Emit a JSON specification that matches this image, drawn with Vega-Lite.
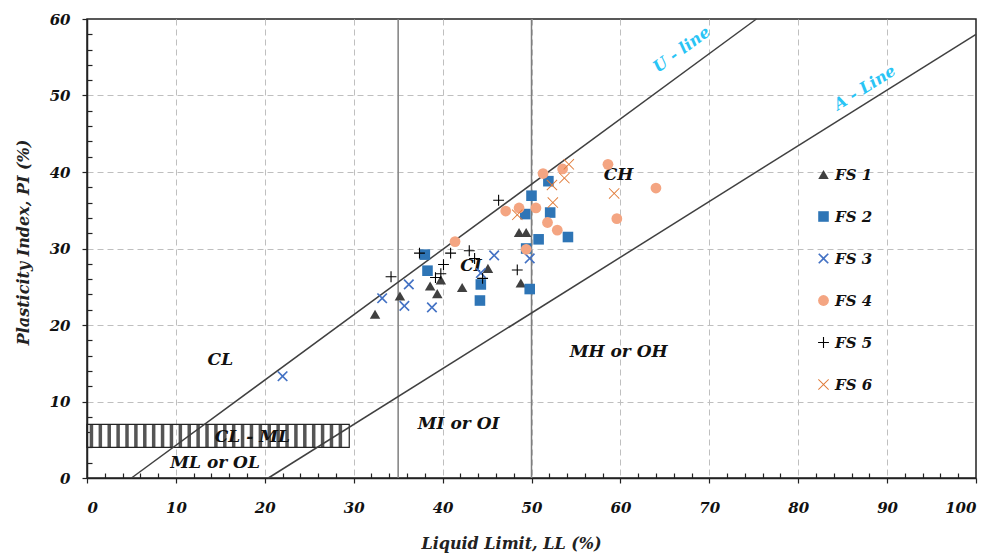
{
  "$schema": "https://vega.github.io/schema/vega-lite/v6.json",
  "width": 889,
  "height": 459,
  "autosize": {"type": "none"},
  "padding": {"left": 87, "top": 19, "right": 19, "bottom": 78},
  "background": "white",
  "datasets": {
    "pts": [
      {"series": "FS 1", "LL": 32.4, "PI": 21.4},
      {"series": "FS 1", "LL": 35.2, "PI": 23.8},
      {"series": "FS 1", "LL": 38.6, "PI": 25.1},
      {"series": "FS 1", "LL": 39.4, "PI": 24.1},
      {"series": "FS 1", "LL": 39.8, "PI": 25.9},
      {"series": "FS 1", "LL": 42.2, "PI": 24.9},
      {"series": "FS 1", "LL": 45.1, "PI": 27.4},
      {"series": "FS 1", "LL": 48.6, "PI": 32.1},
      {"series": "FS 1", "LL": 49.4, "PI": 32.1},
      {"series": "FS 1", "LL": 48.8, "PI": 25.5},
      {"series": "FS 2", "LL": 38.0, "PI": 29.2},
      {"series": "FS 2", "LL": 38.3, "PI": 27.1},
      {"series": "FS 2", "LL": 44.3, "PI": 25.3},
      {"series": "FS 2", "LL": 44.2, "PI": 23.2},
      {"series": "FS 2", "LL": 50.0, "PI": 36.9},
      {"series": "FS 2", "LL": 49.3, "PI": 34.5},
      {"series": "FS 2", "LL": 52.1, "PI": 34.7},
      {"series": "FS 2", "LL": 50.8, "PI": 31.2},
      {"series": "FS 2", "LL": 54.1, "PI": 31.5},
      {"series": "FS 2", "LL": 49.4, "PI": 30.0},
      {"series": "FS 2", "LL": 49.8, "PI": 24.7},
      {"series": "FS 2", "LL": 51.9, "PI": 38.8},
      {"series": "FS 3", "LL": 22.0, "PI": 13.3},
      {"series": "FS 3", "LL": 33.2, "PI": 23.5},
      {"series": "FS 3", "LL": 35.7, "PI": 22.5},
      {"series": "FS 3", "LL": 36.2, "PI": 25.3},
      {"series": "FS 3", "LL": 38.8, "PI": 22.3},
      {"series": "FS 3", "LL": 44.3, "PI": 26.8},
      {"series": "FS 3", "LL": 45.8, "PI": 29.1},
      {"series": "FS 3", "LL": 49.8, "PI": 28.7},
      {"series": "FS 4", "LL": 41.4, "PI": 30.9},
      {"series": "FS 4", "LL": 47.1, "PI": 34.9},
      {"series": "FS 4", "LL": 48.6, "PI": 35.3},
      {"series": "FS 4", "LL": 50.5, "PI": 35.3},
      {"series": "FS 4", "LL": 51.8, "PI": 33.4},
      {"series": "FS 4", "LL": 52.9, "PI": 32.4},
      {"series": "FS 4", "LL": 49.4, "PI": 29.9},
      {"series": "FS 4", "LL": 51.3, "PI": 39.8},
      {"series": "FS 4", "LL": 53.5, "PI": 40.4},
      {"series": "FS 4", "LL": 58.6, "PI": 41.0},
      {"series": "FS 4", "LL": 64.0, "PI": 37.9},
      {"series": "FS 4", "LL": 59.6, "PI": 33.9},
      {"series": "FS 5", "LL": 34.2, "PI": 26.3},
      {"series": "FS 5", "LL": 37.4, "PI": 29.4},
      {"series": "FS 5", "LL": 39.2, "PI": 26.2},
      {"series": "FS 5", "LL": 39.8, "PI": 26.7},
      {"series": "FS 5", "LL": 40.1, "PI": 27.9},
      {"series": "FS 5", "LL": 40.9, "PI": 29.4},
      {"series": "FS 5", "LL": 43.0, "PI": 29.7},
      {"series": "FS 5", "LL": 43.6, "PI": 28.7},
      {"series": "FS 5", "LL": 44.5, "PI": 26.1},
      {"series": "FS 5", "LL": 46.3, "PI": 36.3},
      {"series": "FS 5", "LL": 48.4, "PI": 27.2},
      {"series": "FS 6", "LL": 48.4, "PI": 34.4},
      {"series": "FS 6", "LL": 52.3, "PI": 38.3},
      {"series": "FS 6", "LL": 52.4, "PI": 36.0},
      {"series": "FS 6", "LL": 54.2, "PI": 41.0},
      {"series": "FS 6", "LL": 53.7, "PI": 39.2},
      {"series": "FS 6", "LL": 59.3, "PI": 37.2}
    ],
    "lines": [
      {"line": "U", "LL": 5.0, "PI": 0},
      {"line": "U", "LL": 75.3, "PI": 60},
      {"line": "A", "LL": 20.4, "PI": 0},
      {"line": "A", "LL": 100, "PI": 58.0}
    ],
    "vlines": [
      {"LL": 35, "PI": 0, "PI2": 60},
      {"LL": 50, "PI": 0, "PI2": 60}
    ],
    "hatchbox": [
      {"LL": 0, "LL2": 29.5, "PI": 4, "PI2": 7}
    ],
    "stripes": [
      {"LL": 0.5, "PI": 4, "PI2": 7}, {"LL": 1.5, "PI": 4, "PI2": 7}, {"LL": 2.5, "PI": 4, "PI2": 7},
      {"LL": 3.5, "PI": 4, "PI2": 7}, {"LL": 4.5, "PI": 4, "PI2": 7}, {"LL": 5.5, "PI": 4, "PI2": 7},
      {"LL": 6.5, "PI": 4, "PI2": 7}, {"LL": 7.5, "PI": 4, "PI2": 7}, {"LL": 8.5, "PI": 4, "PI2": 7},
      {"LL": 9.5, "PI": 4, "PI2": 7}, {"LL": 10.5, "PI": 4, "PI2": 7}, {"LL": 11.5, "PI": 4, "PI2": 7},
      {"LL": 12.5, "PI": 4, "PI2": 7}, {"LL": 13.5, "PI": 4, "PI2": 7}, {"LL": 14.5, "PI": 4, "PI2": 7},
      {"LL": 15.5, "PI": 4, "PI2": 7}, {"LL": 16.5, "PI": 4, "PI2": 7}, {"LL": 17.5, "PI": 4, "PI2": 7},
      {"LL": 18.5, "PI": 4, "PI2": 7}, {"LL": 19.5, "PI": 4, "PI2": 7}, {"LL": 20.5, "PI": 4, "PI2": 7},
      {"LL": 21.5, "PI": 4, "PI2": 7}, {"LL": 22.5, "PI": 4, "PI2": 7}, {"LL": 23.5, "PI": 4, "PI2": 7},
      {"LL": 24.5, "PI": 4, "PI2": 7}, {"LL": 25.5, "PI": 4, "PI2": 7}, {"LL": 26.5, "PI": 4, "PI2": 7},
      {"LL": 27.5, "PI": 4, "PI2": 7}, {"LL": 28.5, "PI": 4, "PI2": 7}
    ],
    "labels": [
      {"text": "CL", "LL": 15.0, "PI": 15.4},
      {"text": "CL - ML", "LL": 18.6, "PI": 5.4},
      {"text": "ML or OL", "LL": 14.4, "PI": 1.9},
      {"text": "MI or OI", "LL": 41.8, "PI": 7.1},
      {"text": "CI", "LL": 43.2, "PI": 27.7},
      {"text": "CH", "LL": 59.8, "PI": 39.6},
      {"text": "MH or OH", "LL": 59.8, "PI": 16.5}
    ],
    "linelabels": [
      {"text": "U - line", "LL": 66.9, "PI": 56.0, "angle": -36},
      {"text": "A - Line", "LL": 87.5, "PI": 51.0, "angle": -32}
    ]
  },
  "encoding": {
    "x": {
      "field": "LL", "type": "quantitative",
      "scale": {"domain": [0, 100], "nice": false, "zero": false},
      "axis": {
        "title": "Liquid Limit, LL (%)",
        "titleX": 424,
        "titleFontSize": 16,
        "values": [0,2,4,6,8,10,12,14,16,18,20,22,24,26,28,30,32,34,36,38,40,42,44,46,48,50,52,54,56,58,60,62,64,66,68,70,72,74,76,78,80,82,84,86,88,90,92,94,96,98,100],
        "labelExpr": "datum.value % 10 === 0 ? datum.label : ''",
        "grid": true,
        "gridOpacity": {"condition": {"test": "datum.value % 10 === 0 && datum.value > 0 && datum.value < 100", "value": 1}, "value": 0},
        "tickSize": {"condition": {"test": "datum.value % 10 === 0", "value": 5}, "value": -5},
        "labelPadding": 17,
        "titlePadding": 20
      }
    },
    "y": {
      "field": "PI", "type": "quantitative",
      "scale": {"domain": [0, 60], "nice": false, "zero": false},
      "axis": {
        "title": "Plasticity Index, PI (%)",
        "titleFontSize": 16,
        "titleY": 223,
        "values": [0,2,4,6,8,10,12,14,16,18,20,22,24,26,28,30,32,34,36,38,40,42,44,46,48,50,52,54,56,58,60],
        "labelExpr": "datum.value % 10 === 0 ? datum.label : ''",
        "grid": true,
        "gridOpacity": {"condition": {"test": "datum.value % 10 === 0 && datum.value > 0 && datum.value < 60", "value": 1}, "value": 0},
        "tickSize": {"condition": {"test": "datum.value % 10 === 0", "value": 5}, "value": -5},
        "labelPadding": 12,
        "titlePadding": 18
      }
    }
  },
  "layer": [
    {
      "data": {"name": "vlines"},
      "mark": {"type": "rule", "color": "#7f7f7f", "strokeWidth": 1.5},
      "encoding": {"y2": {"field": "PI2"}}
    },
    {
      "data": {"name": "stripes"},
      "mark": {"type": "rule", "color": "#555555", "strokeWidth": 3.5},
      "encoding": {"y2": {"field": "PI2"}}
    },
    {
      "data": {"name": "hatchbox"},
      "mark": {"type": "rect", "fill": null, "fillOpacity": 0, "stroke": "#222222", "strokeWidth": 1.2},
      "encoding": {"x2": {"field": "LL2"}, "y2": {"field": "PI2"}}
    },
    {
      "data": {"name": "lines"},
      "mark": {"type": "line", "color": "#404040", "strokeWidth": 1.5},
      "encoding": {"detail": {"field": "line"}}
    },
    {
      "data": {"name": "labels"},
      "mark": {"type": "text", "font": "DejaVu Serif", "fontStyle": "italic", "fontWeight": "bold", "fontSize": 17, "color": "#111111"},
      "encoding": {"text": {"field": "text"}}
    },
    {
      "data": {"name": "linelabels"},
      "mark": {"type": "text", "font": "DejaVu Serif", "fontStyle": "italic", "fontWeight": "bold", "fontSize": 16, "color": "#29C4F5"},
      "encoding": {"text": {"field": "text"}, "angle": {"field": "angle", "type": "quantitative", "scale": null}}
    },
    {
      "data": {"name": "pts"},
      "mark": {"type": "point", "filled": true, "opacity": 1, "strokeWidth": 0},
      "encoding": {
        "color": {
          "field": "series", "type": "nominal",
          "scale": {"domain": ["FS 1", "FS 2", "FS 3", "FS 4", "FS 5", "FS 6"], "range": ["#404040", "#2E75B6", "#4472C4", "#F4A582", "#000000", "#E07B39"]},
          "legend": {
            "title": null, "orient": "none", "legendX": 729, "legendY": 148,
            "labelFont": "DejaVu Serif", "labelFontStyle": "italic", "labelFontWeight": "bold", "labelFontSize": 15, "labelColor": "#111111",
            "symbolSize": 90, "rowPadding": 26, "labelOffset": 4, "padding": 0
          }
        },
        "shape": {
          "field": "series", "type": "nominal",
          "scale": {"domain": ["FS 1", "FS 2", "FS 3", "FS 4", "FS 5", "FS 6"], "range": [
            "triangle-up",
            "square",
            "M-1,-0.78L-0.78,-1L0,-0.22L0.78,-1L1,-0.78L0.22,0L1,0.78L0.78,1L0,0.22L-0.78,1L-1,0.78L-0.22,0Z",
            "circle",
            "M-0.1,-1L0.1,-1L0.1,-0.1L1,-0.1L1,0.1L0.1,0.1L0.1,1L-0.1,1L-0.1,0.1L-1,0.1L-1,-0.1L-0.1,-0.1Z",
            "M-1,-0.88L-0.88,-1L0,-0.12L0.88,-1L1,-0.88L0.12,0L1,0.88L0.88,1L0,0.12L-0.88,1L-1,0.88L-0.12,0Z"
          ]}
        },
        "size": {
          "field": "series", "type": "nominal", "legend": null,
          "scale": {"domain": ["FS 1", "FS 2", "FS 3", "FS 4", "FS 5", "FS 6"], "range": [110, 120, 36, 60, 150, 130]}
        }
      }
    }
  ],
  "config": {
    "view": {"stroke": "#222222", "strokeWidth": 1.5},
    "axis": {
      "domainColor": "#222222", "domainWidth": 1.5,
      "tickColor": "#222222", "tickWidth": 1.2,
      "gridColor": "#bfbfbf", "gridDash": [6, 4], "gridWidth": 1,
      "labelFont": "DejaVu Serif", "labelFontStyle": "italic", "labelFontWeight": "bold", "labelFontSize": 15, "labelColor": "#111111",
      "titleFont": "DejaVu Serif", "titleFontStyle": "italic", "titleFontWeight": "bold", "titleFontSize": 15, "titleColor": "#222222"
    }
  }
}
